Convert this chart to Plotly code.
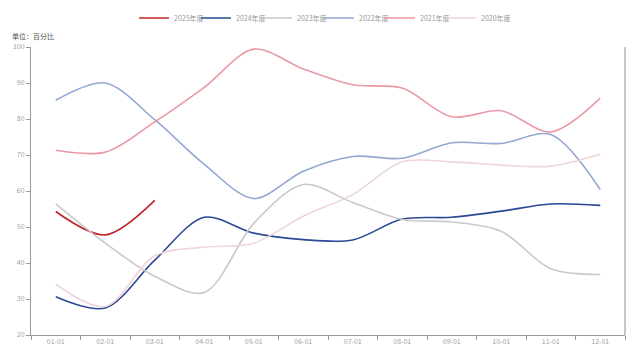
import plotly.graph_objects as go

categories = ["01-01", "02-01", "03-01", "04-01", "05-01", "06-01",
              "07-01", "08-01", "09-01", "10-01", "11-01", "12-01"]

y2025 = [54.3, 47.8, 57.4]
y2024 = [30.6, 27.5, 40.8, 52.7, 48.3, 46.5, 46.4, 52.2, 52.7, 54.4, 56.4, 56.0]
y2023 = [56.4, 45.5, 36.3, 31.8, 51.0, 61.8, 56.8, 52.1, 51.4, 48.8, 38.4, 36.8]
y2022 = [85.2, 90.0, 79.8, 67.4, 57.9, 65.5, 69.6, 69.1, 73.4, 73.2, 75.7, 60.4]
y2021 = [71.3, 70.8, 79.2, 88.8, 99.4, 93.9, 89.5, 88.6, 80.6, 82.3, 76.4, 85.8]
y2020 = [34.1, 27.9, 42.0, 44.4, 45.5, 53.0, 59.0, 68.1, 68.1, 67.2, 66.9, 70.2]

series = [
    ("2025年度", y2025, "#c1232b"),
    ("2024年度", y2024, "#2a4896"),
    ("2023年度", y2023, "#c9c9cb"),
    ("2022年度", y2022, "#94a7d3"),
    ("2021年度", y2021, "#eb99a4"),
    ("2020年度", y2020, "#efd5d9"),
]
# pixel x of each legend entry's symbol start
legend_px = [140, 202, 263, 325, 386, 447]

font_family = "Noto Sans CJK SC, Noto Sans, sans-serif"
plot_left, plot_w = 31, 594

fig = go.Figure()
legend_layouts = {}
for i, (name, vals, color) in enumerate(series):
    key = "legend" if i == 0 else f"legend{i + 1}"
    fig.add_trace(go.Scatter(
        x=categories[:len(vals)], y=vals, name=name, mode="lines",
        line=dict(color=color, width=1.6, shape="spline", smoothing=0.9),
        hoverinfo="x+y+name", legend=key,
    ))
    legend_layouts[key] = dict(
        orientation="h", x=(legend_px[i] - 6 - plot_left) / plot_w, xanchor="left",
        y=0.99, yanchor="top", yref="container",
        font=dict(size=7, color="#999999"), bgcolor="rgba(0,0,0,0)", itemclick=False)

fig.update_layout(
    width=637, height=356,
    margin=dict(l=31, r=12, t=47, b=21, autoexpand=False),
    plot_bgcolor="white", paper_bgcolor="white",
    font=dict(family=font_family, size=7, color="#999999"),
    showlegend=True,
    xaxis=dict(type="category", categoryorder="array", categoryarray=categories,
               range=[-0.5, 11.5], tickson="boundaries", ticks="outside", ticklen=4,
               tickcolor="#999999", showline=True, linecolor="#999999", linewidth=1,
               showgrid=False, zeroline=False, tickfont=dict(size=7, color="#a0a0a0")),
    yaxis=dict(range=[20, 100], dtick=10, ticks="outside", ticklen=4, tickcolor="#999999",
               showline=True, linecolor="#999999", linewidth=1, showgrid=False,
               zeroline=False, tickfont=dict(size=7, color="#a0a0a0")),
    shapes=[dict(type="line", xref="paper", yref="paper", x0=1, x1=1, y0=0, y1=1,
                 line=dict(color="#c8c8c8", width=2))],
    annotations=[dict(text="单位：百分比", xref="paper", yref="paper", x=-0.035, y=1.015,
                      xanchor="left", yanchor="bottom", showarrow=False,
                      font=dict(size=7, color="#555555"))],
    **legend_layouts,
)

fig.write_html("out.html")
